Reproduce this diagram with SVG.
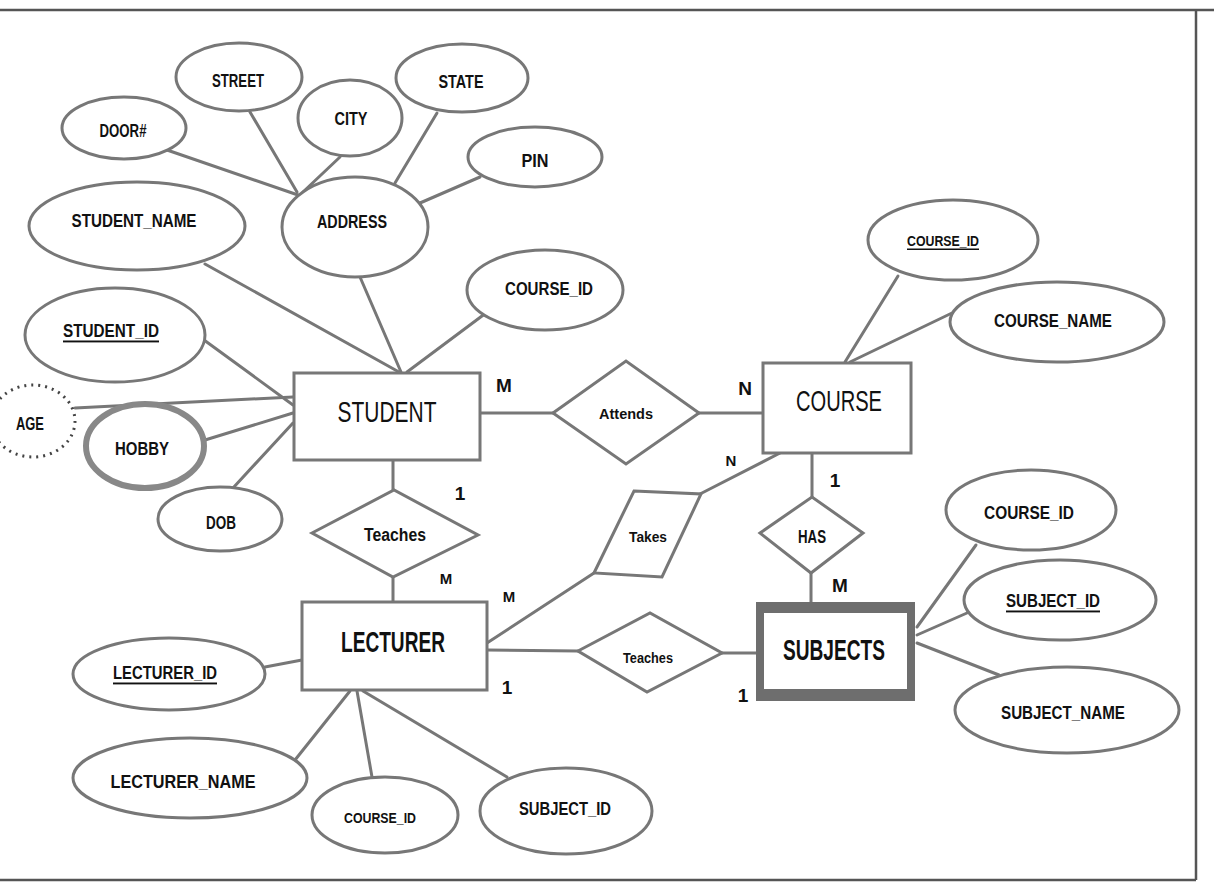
<svg xmlns="http://www.w3.org/2000/svg" width="1214" height="893" viewBox="0 0 1214 893">
<style>
.frame{stroke:#555;stroke-width:2.5;fill:none}
.ln{stroke:#777;stroke-width:3;fill:none;stroke-linecap:round}
.sh{fill:#fff;stroke:#777;stroke-width:3}
.ent{fill:#fff;stroke:#777;stroke-width:3}
.weakout{fill:#6e6e6e}
.weakin{fill:#fff}
.multi{fill:#fff;stroke:#888;stroke-width:6}
.der{fill:#fff;stroke:#444;stroke-width:3;stroke-dasharray:2 5}
text{font-family:"Liberation Sans Narrow","Liberation Sans",Arial,sans-serif;font-weight:bold;fill:#111;text-anchor:middle;dominant-baseline:central}
.a{font-size:19px}
.e{font-size:29px;font-weight:normal}
.eb{font-size:29px}
.r{font-size:15px}
.c{font-size:18px}
.u{text-decoration:underline}
</style>
<rect x="0" y="0" width="1214" height="893" fill="#fff"/>
<path class="frame" d="M0,10 L1214,10 M1196,10 L1196,880 M0,880 L1196,880"/>
<g id="connectors">
<line class="ln" x1="167" y1="150" x2="298" y2="195"/>
<line class="ln" x1="250" y1="112" x2="297" y2="192"/>
<line class="ln" x1="340" y1="157" x2="303" y2="192"/>
<line class="ln" x1="437" y1="113" x2="395" y2="183"/>
<line class="ln" x1="480" y1="177" x2="420" y2="203"/>
<line class="ln" x1="205" y1="264" x2="399" y2="372"/>
<line class="ln" x1="360" y1="277" x2="401" y2="372"/>
<line class="ln" x1="490" y1="310" x2="407" y2="372"/>
<line class="ln" x1="204" y1="340" x2="293" y2="405"/>
<line class="ln" x1="75" y1="408" x2="293" y2="397"/>
<line class="ln" x1="205" y1="440" x2="293" y2="413"/>
<line class="ln" x1="233" y1="488" x2="293" y2="423"/>
<line class="ln" x1="480" y1="413" x2="553" y2="413"/>
<line class="ln" x1="699" y1="413" x2="763" y2="413"/>
<line class="ln" x1="898" y1="276" x2="845" y2="362"/>
<line class="ln" x1="952" y1="313" x2="850" y2="362"/>
<line class="ln" x1="393" y1="460" x2="393" y2="490"/>
<line class="ln" x1="393" y1="577" x2="393" y2="602"/>
<line class="ln" x1="487" y1="643" x2="594" y2="573"/>
<line class="ln" x1="700" y1="494" x2="780" y2="453"/>
<line class="ln" x1="812" y1="453" x2="812" y2="497"/>
<line class="ln" x1="811" y1="573" x2="811" y2="602"/>
<line class="ln" x1="487" y1="650" x2="578" y2="651"/>
<line class="ln" x1="722" y1="653" x2="756" y2="653"/>
<line class="ln" x1="976" y1="545" x2="917" y2="627"/>
<line class="ln" x1="967" y1="613" x2="917" y2="635"/>
<line class="ln" x1="999" y1="675" x2="917" y2="643"/>
<line class="ln" x1="265" y1="667" x2="302" y2="660"/>
<line class="ln" x1="295" y1="760" x2="350" y2="691"/>
<line class="ln" x1="372" y1="777" x2="357" y2="691"/>
<line class="ln" x1="507" y1="777" x2="363" y2="691"/>
</g>
<g id="street"><ellipse class="sh" cx="239" cy="77" rx="63" ry="34"/><text class="a" x="238" y="80" textLength="52" lengthAdjust="spacingAndGlyphs">STREET</text></g>
<g id="state"><ellipse class="sh" cx="462" cy="78" rx="66" ry="34"/><text class="a" x="461" y="81" textLength="45" lengthAdjust="spacingAndGlyphs">STATE</text></g>
<g id="door"><ellipse class="sh" cx="124" cy="128" rx="62" ry="31"/><text class="a" x="123" y="130" textLength="47" lengthAdjust="spacingAndGlyphs">DOOR#</text></g>
<g id="city"><ellipse class="sh" cx="350" cy="118" rx="52" ry="38"/><text class="a" x="351" y="118" textLength="33" lengthAdjust="spacingAndGlyphs">CITY</text></g>
<g id="pin"><ellipse class="sh" cx="535" cy="157" rx="67" ry="30"/><text class="a" x="535" y="160" textLength="27" lengthAdjust="spacingAndGlyphs">PIN</text></g>
<g id="address"><ellipse class="sh" cx="355" cy="227" rx="73" ry="50"/><text class="a" x="352" y="221" textLength="70" lengthAdjust="spacingAndGlyphs">ADDRESS</text></g>
<g id="student_name"><ellipse class="sh" cx="137" cy="226" rx="108" ry="44"/><text class="a" x="134" y="220" textLength="125" lengthAdjust="spacingAndGlyphs">STUDENT_NAME</text></g>
<g id="student_course_id"><ellipse class="sh" cx="545" cy="290" rx="78" ry="40"/><text class="a" x="549" y="288" textLength="88" lengthAdjust="spacingAndGlyphs">COURSE_ID</text></g>
<g id="student_id"><ellipse class="sh" cx="115" cy="335" rx="90" ry="47"/><text class="a u" x="111" y="330" textLength="96" lengthAdjust="spacingAndGlyphs">STUDENT_ID</text></g>
<g id="age"><ellipse class="der" cx="33" cy="421" rx="42" ry="36"/><text class="a" x="30" y="423" textLength="28" lengthAdjust="spacingAndGlyphs">AGE</text></g>
<g id="hobby"><ellipse class="multi" cx="145" cy="446" rx="59" ry="42"/><text class="a" x="142" y="448" textLength="54" lengthAdjust="spacingAndGlyphs">HOBBY</text></g>
<g id="dob"><ellipse class="sh" cx="220" cy="519" rx="62" ry="32"/><text class="a" x="221" y="522" textLength="30" lengthAdjust="spacingAndGlyphs">DOB</text></g>
<g id="course_course_id"><ellipse class="sh" cx="953" cy="240" rx="85" ry="40"/><text class="r u" x="943" y="240" textLength="72" lengthAdjust="spacingAndGlyphs">COURSE_ID</text></g>
<g id="course_name"><ellipse class="sh" cx="1057" cy="322" rx="107" ry="40"/><text class="a" x="1053" y="320" textLength="118" lengthAdjust="spacingAndGlyphs">COURSE_NAME</text></g>
<g id="subj_course_id"><ellipse class="sh" cx="1031" cy="510" rx="85" ry="40"/><text class="a" x="1029" y="512" textLength="90" lengthAdjust="spacingAndGlyphs">COURSE_ID</text></g>
<g id="subject_id"><ellipse class="sh" cx="1060" cy="600" rx="96" ry="40"/><text class="a u" x="1053" y="600" textLength="94" lengthAdjust="spacingAndGlyphs">SUBJECT_ID</text></g>
<g id="subject_name"><ellipse class="sh" cx="1067" cy="710" rx="112" ry="43"/><text class="a" x="1063" y="712" textLength="124" lengthAdjust="spacingAndGlyphs">SUBJECT_NAME</text></g>
<g id="lecturer_id"><ellipse class="sh" cx="169" cy="674" rx="96" ry="36"/><text class="a u" x="165" y="672" textLength="104" lengthAdjust="spacingAndGlyphs">LECTURER_ID</text></g>
<g id="lecturer_name"><ellipse class="sh" cx="190" cy="778" rx="117" ry="40"/><text class="a" x="183" y="781" textLength="145" lengthAdjust="spacingAndGlyphs">LECTURER_NAME</text></g>
<g id="lect_course_id"><ellipse class="sh" cx="385" cy="815" rx="73" ry="38"/><text class="r" x="380" y="817" textLength="72" lengthAdjust="spacingAndGlyphs">COURSE_ID</text></g>
<g id="lect_subject_id"><ellipse class="sh" cx="566" cy="811" rx="86" ry="43"/><text class="a" x="565" y="808" textLength="92" lengthAdjust="spacingAndGlyphs">SUBJECT_ID</text></g>
<g id="student"><rect class="ent" x="294" y="373" width="186" height="87"/><text class="e" x="387" y="412" textLength="99" lengthAdjust="spacingAndGlyphs">STUDENT</text></g>
<g id="course"><rect class="ent" x="763" y="363" width="148" height="90"/><text class="e" x="839" y="401" textLength="86" lengthAdjust="spacingAndGlyphs">COURSE</text></g>
<g id="lecturer"><rect class="ent" x="302" y="602" width="185" height="88"/><text class="eb" x="393" y="642" textLength="104" lengthAdjust="spacingAndGlyphs">LECTURER</text></g>
<g id="subjects"><rect class="weakout" x="756" y="602" width="159" height="99"/><rect class="weakin" x="764" y="613" width="143" height="76"/><text class="eb" x="834" y="650" textLength="102" lengthAdjust="spacingAndGlyphs">SUBJECTS</text></g>
<g id="attends"><polygon class="sh" points="553,413 626,361 699,413 626,464"/><text class="r" x="626" y="413" textLength="54" lengthAdjust="spacingAndGlyphs">Attends</text></g>
<g id="teaches1"><polygon class="sh" points="312,533 394,490 478,535 393,577"/><text class="c" x="395" y="535" textLength="62" lengthAdjust="spacingAndGlyphs">Teaches</text></g>
<g id="takes"><polygon class="sh" points="634,491 701,494 662,577 594,573"/><text class="r" x="648" y="536" textLength="38" lengthAdjust="spacingAndGlyphs">Takes</text></g>
<g id="has"><polygon class="sh" points="760,533 812,497 863,533 811,573"/><text class="a" x="812" y="536" textLength="28" lengthAdjust="spacingAndGlyphs">HAS</text></g>
<g id="teaches2"><polygon class="sh" points="578,651 650,613 722,653 647,692"/><text class="r" x="648" y="657" textLength="50" lengthAdjust="spacingAndGlyphs">Teaches</text></g>
<g id="cardinalities">
<text class="a" x="504" y="385">M</text>
<text class="a" x="745" y="388">N</text>
<text class="r" x="731" y="460">N</text>
<text class="a" x="460" y="493">1</text>
<text class="a" x="835" y="480">1</text>
<text class="r" x="446" y="578">M</text>
<text class="r" x="509" y="596">M</text>
<text class="a" x="840" y="585">M</text>
<text class="a" x="507" y="687">1</text>
<text class="a" x="743" y="695">1</text>
</g>
</svg>
